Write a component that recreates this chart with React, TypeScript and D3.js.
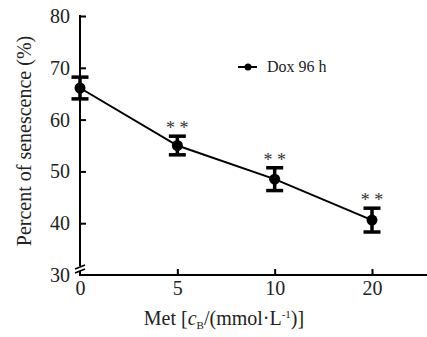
import React, { FC, useEffect, useRef } from "react"
import { select, scaleLinear, axisLeft, axisBottom, line } from "d3"

const doses = ["0", "5", "10", "20"]
const senescence = [66.1, 55.0, 48.5, 40.6]
const errors = [2.1, 1.8, 2.2, 2.3]
const stars = ["", "* *", "* *", "* *"]
const yTicks = [30, 40, 50, 60, 70, 80]
const seriesName = "Dox 96 h"

const App: FC = () => {
  const svgRef = useRef<SVGSVGElement>(null)

  useEffect(() => {
    document.body.style.margin = "0"
    const svg = select(svgRef.current)
    svg.selectAll("*").remove()

    const font = "Liberation Serif, DejaVu Serif, serif"
    const ink = "#222"
    const left = 80
    const axisRight = 427

    // scales
    const xScale = scaleLinear().domain([0, doses.length - 1]).range([left, 372])
    const yScale = scaleLinear().domain([30, 80]).range([275, 16])
    const baseY = yScale(30)

    // y axis
    const yAxis = svg
      .append("g")
      .attr("transform", `translate(${left},0)`)
      .call(axisLeft(yScale).tickValues(yTicks).tickSize(-6).tickPadding(10))
    yAxis.select(".domain").remove()
    yAxis.selectAll("line").attr("stroke", "#000").attr("stroke-width", 2)
    yAxis.selectAll(".tick").filter((d: any) => d === 30).select("line").remove()
    yAxis.selectAll("text").style("font-family", font).style("font-size", "20px").attr("fill", ink)
    svg
      .append("line")
      .attr("x1", left)
      .attr("x2", left)
      .attr("y1", yScale(80) - 1)
      .attr("y2", 266)
      .attr("stroke", "#000")
      .attr("stroke-width", 2)
    svg
      .append("line")
      .attr("x1", left)
      .attr("x2", left)
      .attr("y1", 271)
      .attr("y2", baseY)
      .attr("stroke", "#000")
      .attr("stroke-width", 2)
    ;[267, 271].forEach((y) => {
      svg
        .append("line")
        .attr("x1", left - 5)
        .attr("x2", left + 5)
        .attr("y1", y + 2)
        .attr("y2", y - 2)
        .attr("stroke", "#000")
        .attr("stroke-width", 1.6)
    })

    // x axis
    const xAxis = svg
      .append("g")
      .attr("transform", `translate(0,${baseY})`)
      .call(
        axisBottom(xScale)
          .tickValues(doses.map((_, i) => i))
          .tickFormat((i: any) => doses[i])
          .tickSize(-6)
          .tickPadding(6),
      )
    xAxis.select(".domain").remove()
    xAxis.selectAll("line").attr("stroke", "#000").attr("stroke-width", 2)
    xAxis.selectAll(".tick").filter((d: any) => d === 0).select("line").remove()
    xAxis.selectAll("text").style("font-family", font).style("font-size", "20px").attr("fill", ink)
    svg
      .append("line")
      .attr("x1", left - 1)
      .attr("x2", axisRight)
      .attr("y1", baseY)
      .attr("y2", baseY)
      .attr("stroke", "#000")
      .attr("stroke-width", 2)

    // series line
    const lineGen = line<number>()
      .x((_, i) => xScale(i))
      .y((d) => yScale(d))
    svg
      .append("path")
      .attr("d", lineGen(senescence) ?? "")
      .attr("fill", "none")
      .attr("stroke", "#000")
      .attr("stroke-width", 2)

    // error bars, dots, stars
    senescence.forEach((v, i) => {
      const x = xScale(i)
      const top = yScale(v + errors[i])
      const bottom = yScale(v - errors[i])
      const g = svg.append("g")
      g.append("line")
        .attr("x1", x)
        .attr("x2", x)
        .attr("y1", top)
        .attr("y2", bottom)
        .attr("stroke", "#000")
        .attr("stroke-width", 3.5)
      ;[top, bottom].forEach((y) => {
        g.append("line")
          .attr("x1", x - 8.5)
          .attr("x2", x + 8.5)
          .attr("y1", y)
          .attr("y2", y)
          .attr("stroke", "#000")
          .attr("stroke-width", 3.5)
      })
      g.append("circle").attr("cx", x).attr("cy", yScale(v)).attr("r", 5.5).attr("fill", "#000")
      if (stars[i]) {
        g.append("text")
          .text(stars[i])
          .attr("x", x)
          .attr("y", top - 2)
          .attr("text-anchor", "middle")
          .style("font-family", font)
          .style("font-size", "18px")
          .attr("fill", "#333")
      }
    })

    // legend
    svg
      .append("line")
      .attr("x1", 238)
      .attr("x2", 257)
      .attr("y1", 67)
      .attr("y2", 67)
      .attr("stroke", "#000")
      .attr("stroke-width", 2)
    svg.append("circle").attr("cx", 248).attr("cy", 67).attr("r", 3.5).attr("fill", "#000")
    svg
      .append("text")
      .text(seriesName)
      .attr("x", 267)
      .attr("y", 72)
      .style("font-family", font)
      .style("font-size", "16px")
      .attr("fill", ink)

    // axis titles
    svg
      .append("text")
      .text("Percent of senescence (%)")
      .attr("transform", "translate(31,141) rotate(-90)")
      .attr("text-anchor", "middle")
      .style("font-family", font)
      .style("font-size", "20px")
      .attr("fill", ink)

    const xTitle = svg
      .append("text")
      .attr("x", 224)
      .attr("y", 325)
      .attr("text-anchor", "middle")
      .style("font-family", font)
      .style("font-size", "20px")
      .attr("fill", ink)
    xTitle.append("tspan").text("Met [")
    xTitle.append("tspan").text("c").attr("font-style", "italic")
    xTitle.append("tspan").text("B").style("font-size", "11px").attr("dy", 4)
    xTitle.append("tspan").text("/(mmol·L").attr("dy", -4)
    xTitle.append("tspan").text("-1").style("font-size", "11px").attr("dy", -7)
    xTitle.append("tspan").text(")]").attr("dy", 7)
  }, [])

  return <svg ref={svgRef} width={427} height={337} style={{ display: "block" }} />
}

export default App
